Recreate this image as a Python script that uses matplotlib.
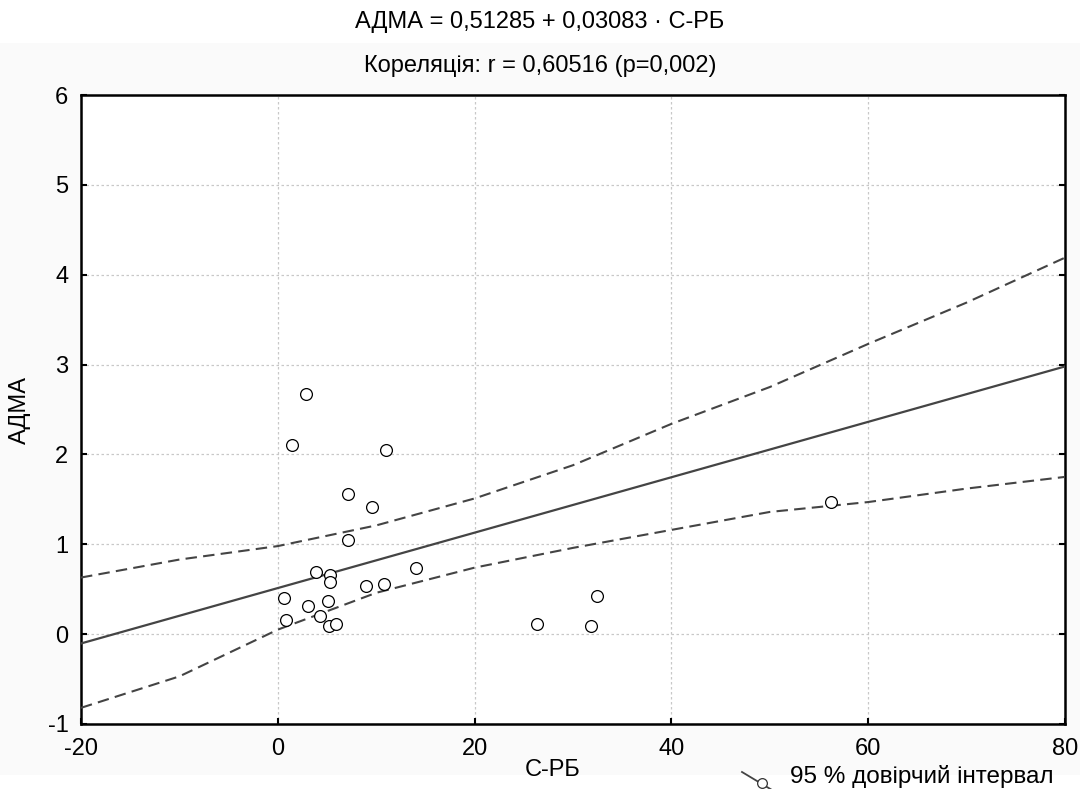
import numpy as np
import matplotlib
matplotlib.use('Agg')
import matplotlib.pyplot as plt
from matplotlib.lines import Line2D

plt.rcParams['font.family'] = ['Liberation Sans', 'DejaVu Sans']
plt.rcParams['axes.unicode_minus'] = False

# values
crp = [2.87, 1.42, 10.95, 7.1, 9.53, 7.1, 3.85, 5.3, 5.3, 14.0, 8.93, 10.78,
       0.64, 3.1, 5.07, 0.85, 4.3, 5.24, 5.9, 26.37, 31.85, 32.45, 56.2]
adma = [2.67, 2.10, 2.05, 1.56, 1.41, 1.05, 0.69, 0.66, 0.58, 0.74, 0.54, 0.56,
        0.40, 0.31, 0.37, 0.16, 0.20, 0.09, 0.11, 0.11, 0.09, 0.43, 1.47]
intercept = 0.51285
slope = 0.03083

# 95% band as drawn
band_x = [-20, -10, 0, 10, 20, 30, 40, 50, 60, 70, 80]
band_upper = [0.63, 0.83, 0.98, 1.21, 1.51, 1.88, 2.34, 2.75, 3.23, 3.69, 4.19]
band_lower = [-0.82, -0.47, 0.05, 0.46, 0.74, 0.96, 1.16, 1.36, 1.47, 1.62, 1.75]

xs = np.array([-20, 80])
fit = intercept + slope * xs

fig = plt.figure(figsize=(10.8, 7.89), dpi=100)
fig.patch.set_facecolor('white')
# light grey panel behind the plot
fig.patches.append(plt.Rectangle((0, 1 - 775 / 789), 1, (775 - 43) / 789,
                                 transform=fig.transFigure, facecolor='#fafafa',
                                 edgecolor='none', zorder=-10))
ax = fig.add_axes([81 / 1080, 1 - 724 / 789, (1065 - 81) / 1080, (724 - 95) / 789])
ax.set_facecolor('white')

ax.plot(xs, fit, color='#444444', lw=1.6, zorder=3)
ax.plot(band_x, band_upper, color='#444444', lw=1.5, ls=(0, (5.5, 3)), zorder=3)
ax.plot(band_x, band_lower, color='#444444', lw=1.5, ls=(0, (5.5, 3)), zorder=3)
ax.plot(crp, adma, 'o', mfc='white', mec='black', mew=0.9, ms=8.5, zorder=4)

ax.set_xlim(-20, 80)
ax.set_ylim(-1, 6)
ax.set_xticks([-20, 0, 20, 40, 60, 80])
ax.set_yticks(range(-1, 7))
ax.grid(True, color='#c8c8c8', ls=(0, (2, 2)), lw=0.9)
ax.set_axisbelow(True)
for sp in ax.spines.values():
    sp.set_linewidth(1.8)
ax.tick_params(direction='in', length=4, width=1.5, labelsize=17,
               right=True, top=False)
ax.tick_params(axis='x', pad=10)
ax.tick_params(axis='y', pad=9)

fig.text(0.5, 1 - 22 / 789, 'АДМА = 0,51285 + 0,03083 · С-РБ', ha='center', va='center', fontsize=17)
fig.text(0.5, 1 - 66 / 789, 'Кореляція: r = 0,60516 (p=0,002)', ha='center', va='center', fontsize=17)
fig.text(553 / 1080, 1 - 770 / 789, 'С-РБ', ha='center', va='center', fontsize=17)
fig.text(20 / 1080, 1 - 410 / 789, 'АДМА', ha='center', va='center', rotation=90, fontsize=17)

# legend entry at the bottom right
fig.add_artist(Line2D([742 / 1080, 772 / 1080], [1 - 772 / 789, 1 - 790 / 789],
                      transform=fig.transFigure, color='#444444', lw=1.3))
fig.add_artist(Line2D([762 / 1080], [1 - 783 / 789], transform=fig.transFigure,
                      marker='o', mfc='white', mec='#333333', ms=7, mew=0.9))
fig.text(790 / 1080, 1 - 777 / 789, '95 % довірчий інтервал', ha='left', va='center', fontsize=17.5)

fig.savefig('out.png', dpi=100)
